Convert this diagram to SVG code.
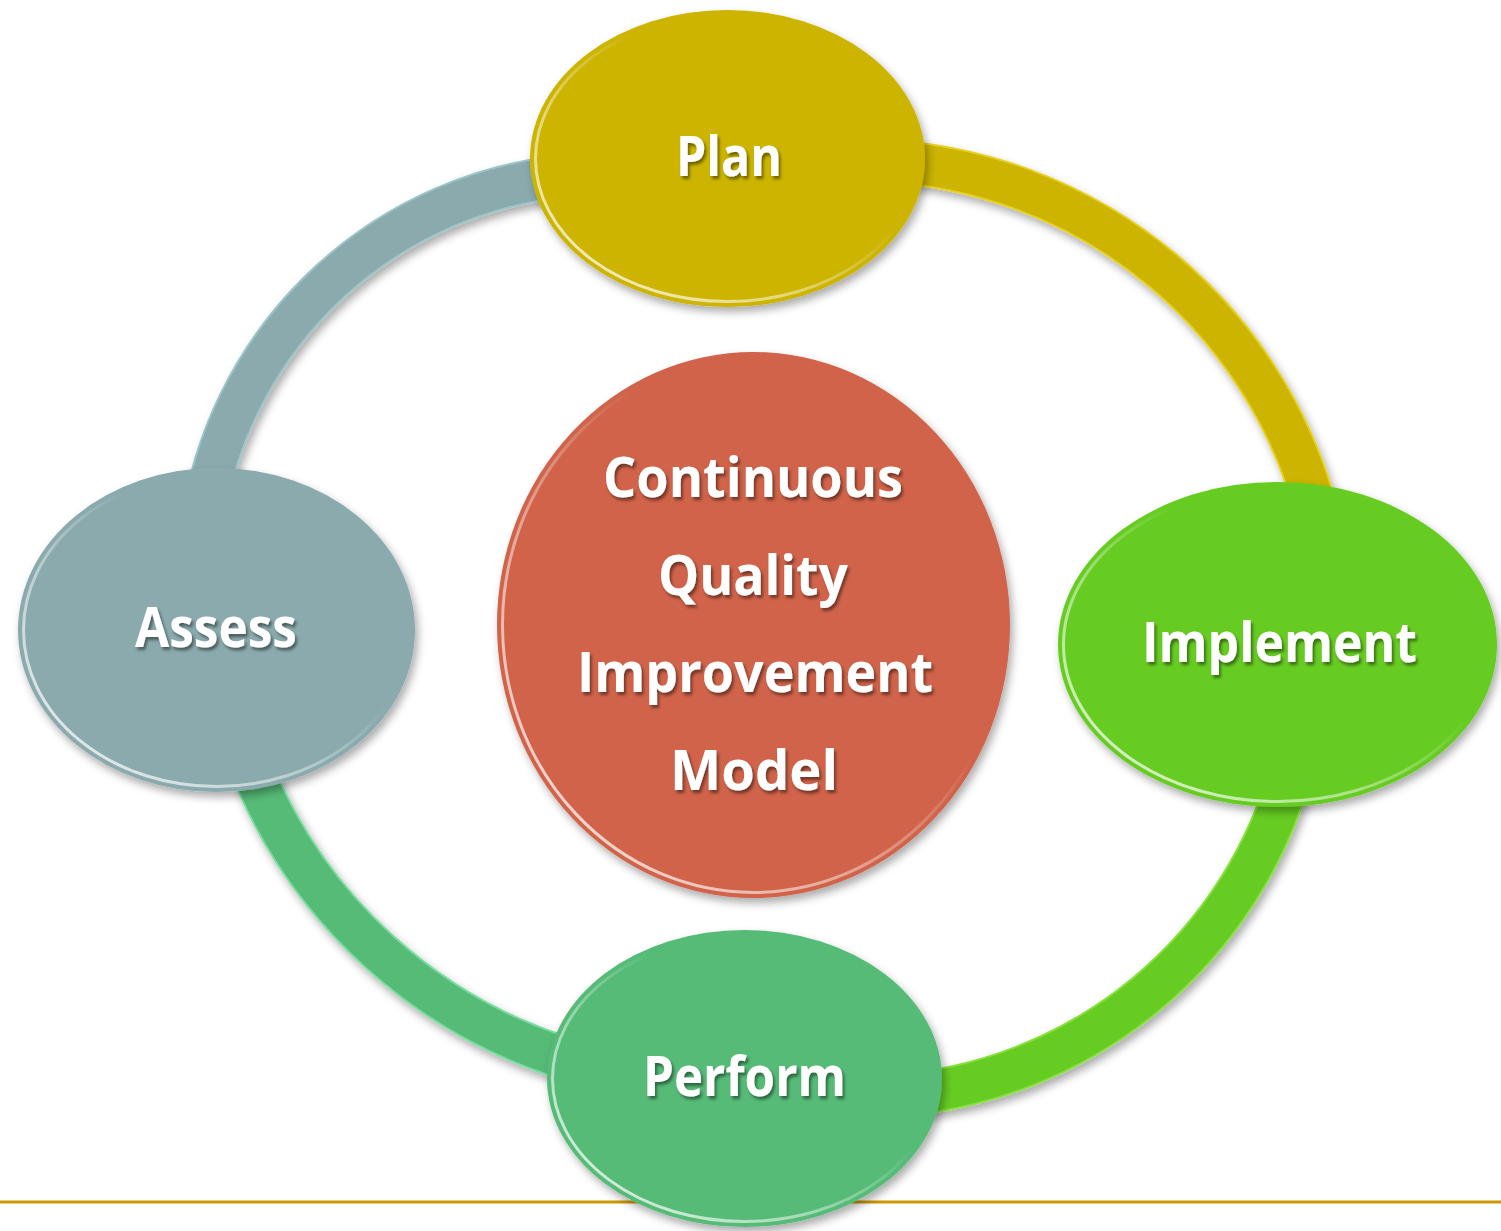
<svg xmlns="http://www.w3.org/2000/svg" width="1501" height="1231" viewBox="0 0 1501 1231">
<defs>
  <filter id="shadow" x="-20%" y="-20%" width="140%" height="140%">
    <feDropShadow dx="3" dy="5" stdDeviation="4" flood-color="#000" flood-opacity="0.33"/>
  </filter>
  <filter id="tshadow" x="-10%" y="-30%" width="120%" height="160%">
    <feDropShadow dx="2" dy="3" stdDeviation="1.6" flood-color="#000" flood-opacity="0.45"/>
  </filter>
  <linearGradient id="rim" x1="0" y1="1" x2="1" y2="0">
    <stop offset="0" stop-color="#fff" stop-opacity="0.9"/>
    <stop offset="0.35" stop-color="#fff" stop-opacity="0.45"/>
    <stop offset="0.6" stop-color="#fff" stop-opacity="0"/>
  </linearGradient>
</defs>
<style>
  .lbl { font-family: "Open Sans", "Liberation Sans", sans-serif; font-weight: 700; font-size: 55px; fill: #ffffff; text-anchor: middle; filter: url(#tshadow); }
  .big { font-size: 56px; }
  .arc { fill: none; stroke-width: 44; filter: url(#shadow); }
  .arcin { fill: none; stroke-width: 40; }
  .rim { fill: none; stroke: url(#rim); stroke-width: 3; }
  .node { filter: url(#shadow); }
</style>
<rect x="0" y="0" width="1501" height="1231" fill="#ffffff"/>
<line x1="0" y1="1202" x2="1501" y2="1202" stroke="#CC9900" stroke-width="3"/>
<g id="connectors">
  <path class="arc" stroke="#9CC4C6" d="M 204.2 511.2 A 408 408 0 0 1 570.4 175.6"/>
  <path class="arcin" stroke="#8AAAAD" d="M 204.2 511.2 A 408 408 0 0 1 570.4 175.6"/>
  <path class="arc" stroke="#E6D020" d="M 875.3 160.4 A 473.8 473.8 0 0 1 1322.2 535.4"/>
  <path class="arcin" stroke="#CCB400" d="M 875.3 160.4 A 473.8 473.8 0 0 1 1322.2 535.4"/>
  <path class="arc" stroke="#88E040" d="M 1292 766.7 A 445.5 445.5 0 0 1 892.8 1095.8"/>
  <path class="arcin" stroke="#66CC22" d="M 1292 766.7 A 445.5 445.5 0 0 1 892.8 1095.8"/>
  <path class="arc" stroke="#7ADDA0" d="M 594.2 1066.4 A 499.8 499.8 0 0 1 245.4 752.3"/>
  <path class="arcin" stroke="#55BB77" d="M 594.2 1066.4 A 499.8 499.8 0 0 1 245.4 752.3"/>
</g>
<g id="center">
  <ellipse class="node" cx="753.5" cy="625" rx="256.5" ry="273" fill="#D06349"/>
  <ellipse class="rim" cx="753.5" cy="625" rx="251" ry="267.5"/>
  <text class="lbl big" x="753" y="497" textLength="300" lengthAdjust="spacingAndGlyphs">Continuous</text>
  <text class="lbl big" x="753" y="595" textLength="190" lengthAdjust="spacingAndGlyphs">Quality</text>
  <text class="lbl big" x="755" y="692" textLength="356" lengthAdjust="spacingAndGlyphs">Improvement</text>
  <text class="lbl big" x="754" y="790" textLength="168" lengthAdjust="spacingAndGlyphs">Model</text>
</g>
<g id="plan">
  <ellipse class="node" cx="727.5" cy="158.5" rx="197.5" ry="148.5" fill="#CCB400"/>
  <ellipse class="rim" cx="727.5" cy="158.5" rx="192" ry="143"/>
  <text class="lbl" x="729" y="176" textLength="106" lengthAdjust="spacingAndGlyphs">Plan</text>
</g>
<g id="implement">
  <ellipse class="node" cx="1277.5" cy="644.5" rx="219.5" ry="162.5" fill="#66CC22"/>
  <ellipse class="rim" cx="1277.5" cy="644.5" rx="214" ry="157"/>
  <text class="lbl" x="1279.5" y="662" textLength="275" lengthAdjust="spacingAndGlyphs">Implement</text>
</g>
<g id="perform">
  <ellipse class="node" cx="744.5" cy="1078.5" rx="197.5" ry="148.5" fill="#55BB77"/>
  <ellipse class="rim" cx="744.5" cy="1078.5" rx="192" ry="143"/>
  <text class="lbl" x="744.5" y="1096" textLength="203" lengthAdjust="spacingAndGlyphs">Perform</text>
</g>
<g id="assess">
  <ellipse class="node" cx="216.5" cy="630" rx="198.5" ry="162" fill="#8AAAAD"/>
  <ellipse class="rim" cx="216.5" cy="630" rx="193" ry="156.5"/>
  <text class="lbl" x="216" y="647" textLength="162" lengthAdjust="spacingAndGlyphs">Assess</text>
</g>
</svg>
